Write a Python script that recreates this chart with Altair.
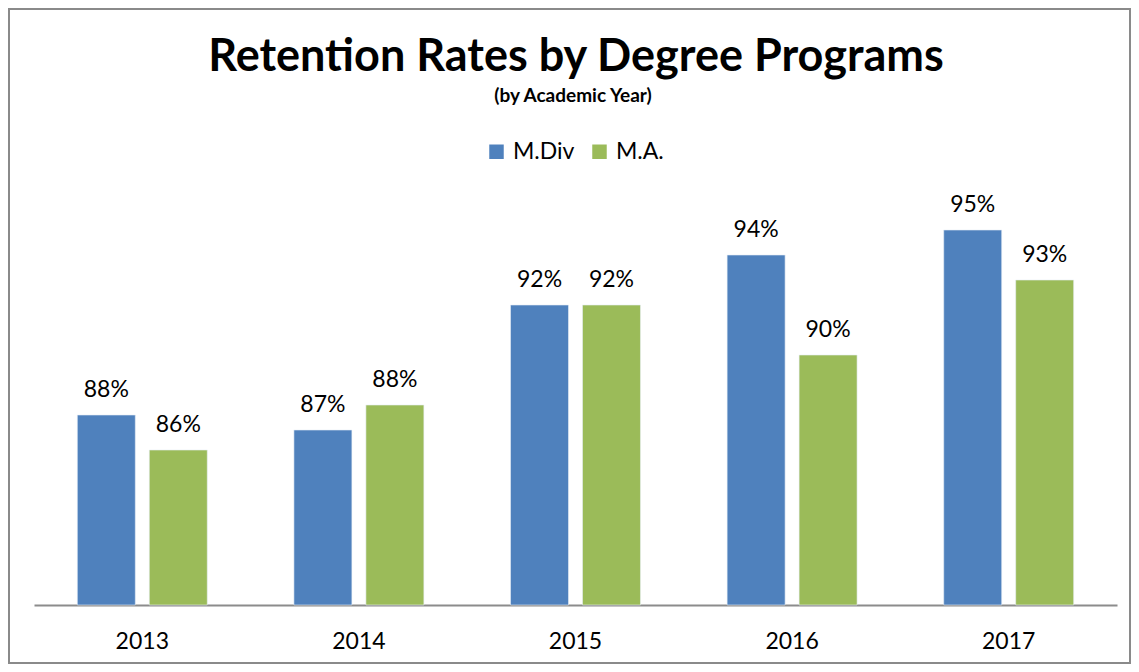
import altair as alt
import pandas as pd

years = ["2013", "2014", "2015", "2016", "2017"]
programs = ["M.Div", "M.A."]
mdiv = [87.6, 87.0, 92.0, 94.0, 95.0]
ma = [86.2, 88.0, 92.0, 90.0, 93.0]
colors = ["#4F81BD", "#9BBB59"]
title_text = "Retention Rates by Degree Programs"
subtitle_text = "(by Academic Year)"

rows = []
for i, yr in enumerate(years):
    rows.append({"year": yr, "program": "M.Div", "value": mdiv[i]})
    rows.append({"year": yr, "program": "M.A.", "value": ma[i]})
df = pd.DataFrame(rows)

FONT = "Lato"
W, H = 1083, 500
PL, PT, PR, PB = 26, 97, 14, 59

x = alt.X("year:N", sort=years,
          scale=alt.Scale(paddingInner=0.4, paddingOuter=0.2),
          axis=alt.Axis(title=None, labelAngle=0, ticks=False, domainColor="#8C8C8C",
                        domainWidth=2, labelFontSize=23, labelFont=FONT, labelColor="black",
                        labelPadding=25, grid=False))
xo = alt.XOffset("program:N", sort=programs,
                 scale=alt.Scale(domain=programs, paddingInner=0.1944, paddingOuter=0))
y = alt.Y("value:Q", scale=alt.Scale(domain=[80, 100], zero=False, nice=False), axis=None)

bars = alt.Chart(df).mark_bar(stroke="#E8EEF7", strokeWidth=0.6).encode(
    x=x, xOffset=xo, y=y, y2=alt.datum(80),
    color=alt.Color("program:N", sort=programs,
                    scale=alt.Scale(domain=programs, range=colors),
                    legend=alt.Legend(title=None, orient="none", legendX=451, legendY=35,
                                      direction="horizontal", symbolType="square",
                                      symbolSize=210, labelFontSize=23, labelFont=FONT,
                                      labelColor="black", symbolStrokeWidth=0,
                                      columnPadding=13, labelOffset=5, padding=0)),
)

labels = alt.Chart(df).transform_calculate(
    label="format(datum.value, '.0f') + '%'"
).mark_text(font=FONT, fontSize=23, color="black", baseline="alphabetic", dy=-18).encode(
    x=x, xOffset=xo, y=y, text="label:N"
)

tdf = pd.DataFrame({"title": [title_text], "subtitle": [subtitle_text]})
title = alt.Chart(tdf).mark_text(font=FONT, fontSize=45, fontWeight="bold", color="black",
                                 baseline="alphabetic").encode(
    x=alt.value(542), y=alt.value(-34), text="title:N")
subtitle = alt.Chart(tdf).mark_text(font=FONT, fontSize=19, fontWeight="bold", color="black",
                                    baseline="alphabetic").encode(
    x=alt.value(539), y=alt.value(-3), text="subtitle:N")

border = alt.Chart(tdf).mark_rect(filled=False, stroke="#8A8A8A", strokeWidth=2).encode(
    x=alt.value(-PL + 1), x2=alt.value(W + PR - 1),
    y=alt.value(-PT + 1), y2=alt.value(H + PB - 1))

chart = alt.layer(border, bars, labels, title, subtitle).properties(
    width=W, height=H,
    autosize=alt.AutoSizeParams(type="none"),
    padding={"left": PL, "top": PT, "right": PR, "bottom": PB},
).configure_view(stroke=None)

chart.save("out.html", embed_options={"renderer": "svg", "actions": False})
